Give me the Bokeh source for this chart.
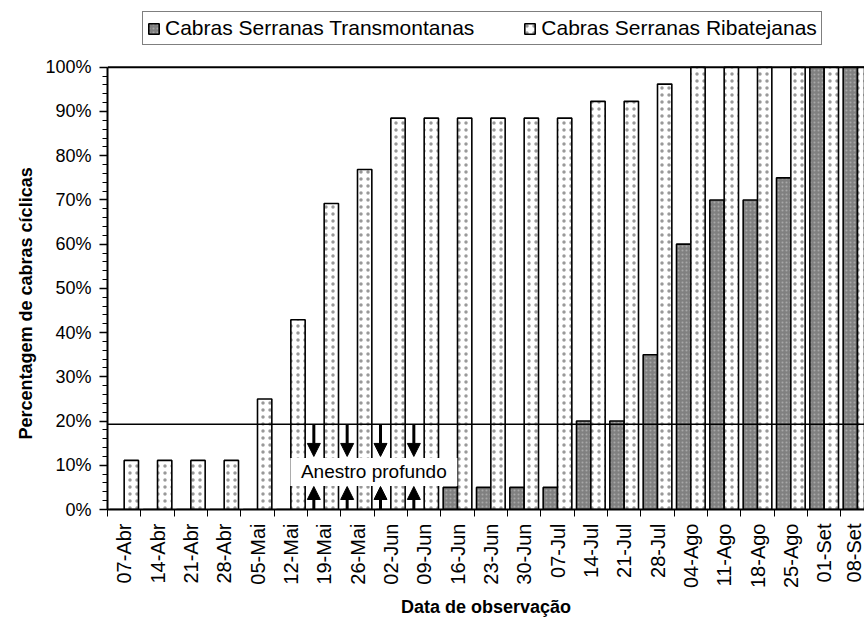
import math
from bokeh.plotting import figure
from bokeh.models import (Range1d, FixedTicker, PrintfTickFormatter, Title,
                          CustomJSTickFormatter, Span, Arrow, NormalHead, Legend, LegendItem,
                          ColumnDataSource, Label)
from bokeh.embed import file_html
from bokeh.resources import INLINE

# ---------------- data ----------------
dates = ["07-Abr", "14-Abr", "21-Abr", "28-Abr", "05-Mai", "12-Mai", "19-Mai", "26-Mai",
         "02-Jun", "09-Jun", "16-Jun", "23-Jun", "30-Jun", "07-Jul", "14-Jul", "21-Jul",
         "28-Jul", "04-Ago", "11-Ago", "18-Ago", "25-Ago", "01-Set", "08-Set"]
transmontanas = [0, 0, 0, 0, 0, 0, 0, 0, 0, 0, 5, 5, 5, 5, 20, 20, 35, 60, 70, 70, 75, 100, 100]
ribatejanas = [11.1, 11.1, 11.1, 11.1, 25.0, 42.9, 69.2, 76.9, 88.5, 88.5, 88.5, 88.5, 88.5,
               88.5, 92.3, 92.3, 96.2, 100, 100, 100, 100, 100, 100]
y_ticks = [0, 10, 20, 30, 40, 50, 60, 70, 80, 90, 100]
threshold = 19.3
anestro_weeks = ["19-Mai", "26-Mai", "02-Jun", "09-Jun"]
series_names = ["Cabras Serranas Transmontanas", "Cabras Serranas Ribatejanas"]
annotation_text = "Anestro profundo"
y_title = "Percentagem de cabras cíclicas"
x_title = "Data de observação"

FONT = "Liberation Sans"

idx = list(range(len(dates)))
src = ColumnDataSource(dict(
    x_t=[i + 0.285 for i in idx],
    x_r=[i + 0.715 for i in idx],
    t=transmontanas,
    r=ribatejanas,
))

# frame reaches the top of the page so that the legend can sit above the 100% line
p = figure(width=864, height=619, x_range=Range1d(0, 22.71), y_range=Range1d(0, 115.1),
           output_backend="svg", toolbar_location=None,
           min_border_left=107, min_border_right=0, min_border_top=0, min_border_bottom=109)
p.outline_line_color = None
p.xgrid.visible = False
p.ygrid.visible = False
p.background_fill_color = "white"

r1 = p.vbar(x="x_t", top="t", bottom=0, width=0.43, source=src,
            fill_color="#808080", line_color="black", line_width=1.6,
            hatch_pattern=".", hatch_color="#a8a8a8", hatch_scale=4, hatch_weight=1)
r2 = p.vbar(x="x_r", top="r", bottom=0, width=0.43, source=src,
            fill_color="white", line_color="black", line_width=1.6,
            hatch_pattern=".", hatch_color="#999999", hatch_scale=7, hatch_weight=1.5)

# threshold + top border
p.add_layout(Span(location=threshold, dimension="width", line_color="black", line_width=1.5))
p.add_layout(Span(location=y_ticks[-1], dimension="width", line_color="black", line_width=2))

# annotation box and text
ax = [dates.index(w) + 0.19 for w in anestro_weeks]
box_x = (dates.index(anestro_weeks[0]) + dates.index(anestro_weeks[-1])) / 2 + 0.49
p.rect(x=[box_x], y=[8.5], width=167, height=28, width_units="screen", height_units="screen",
       fill_color="white", line_color=None)
p.add_layout(Label(x=box_x, y=8.5, text=annotation_text, text_font=FONT, text_font_size="19px",
                   text_align="center", text_baseline="middle", text_color="black"))

for x in ax:
    p.add_layout(Arrow(end=NormalHead(size=13, fill_color="black", line_color="black"),
                       x_start=x, y_start=threshold, x_end=x, y_end=12.0,
                       line_color="black", line_width=3))
    p.add_layout(Arrow(end=NormalHead(size=13, fill_color="black", line_color="black"),
                       x_start=x, y_start=-1.2, x_end=x, y_end=5.2,
                       line_color="black", line_width=3))

# x axis
xa = p.xaxis[0]
xa.ticker = FixedTicker(ticks=[i + 0.5 for i in idx], minor_ticks=list(range(len(dates) + 1)))
xa.formatter = CustomJSTickFormatter(args=dict(labels=dates),
                                     code="return labels[Math.floor(tick)] || ''")
xa.major_label_orientation = math.pi / 2
xa.major_tick_out = 0
xa.major_tick_in = 0
xa.minor_tick_out = 7
xa.minor_tick_in = 0
xa.minor_tick_line_color = "black"
xa.axis_line_width = 2
xa.axis_line_color = "black"
xa.major_label_standoff = 7
xa.major_label_text_font = FONT
xa.major_label_text_font_size = "20px"
xa.major_label_text_color = "black"
xa.axis_label = x_title
xa.axis_label_text_font = FONT
xa.axis_label_text_font_style = "bold"
xa.axis_label_text_font_size = "18px"
xa.axis_label_standoff = 6
xa.axis_label_text_color = "black"

# y axis (drawn only from 0% to 100%)
ya = p.yaxis[0]
ya.bounds = (y_ticks[0], y_ticks[-1])
ya.ticker = FixedTicker(ticks=y_ticks, minor_ticks=list(range(0, 101, 2)))
ya.formatter = PrintfTickFormatter(format="%d%%")
ya.major_tick_out = 8
ya.major_tick_in = 0
ya.minor_tick_out = 5
ya.minor_tick_in = 0
ya.major_tick_line_width = 1.5
ya.minor_tick_line_color = "black"
ya.axis_line_width = 2
ya.axis_line_color = "black"
ya.major_label_standoff = 8
ya.major_label_text_font = FONT
ya.major_label_text_font_size = "18px"
ya.major_label_text_color = "black"

# y title as a side title so that it is centred on the 0-100% span
p.add_layout(Title(text=y_title, align="left", offset=70, standoff=14,
                   text_font=FONT, text_font_style="bold", text_font_size="18px",
                   text_color="black"), "left")

legend = Legend(items=[LegendItem(label=series_names[0], renderers=[r1]),
                       LegendItem(label=series_names[1], renderers=[r2])],
                orientation="horizontal", location=(35, 464),
                label_text_font=FONT, label_text_font_size="21px", label_text_color="black",
                glyph_width=13, glyph_height=13, label_standoff=5, spacing=49, padding=4,
                margin=0, label_height=21,
                border_line_color="black", border_line_width=1, background_fill_alpha=1)
p.add_layout(legend, "center")

open("out.html", "w").write(file_html(p, INLINE))
